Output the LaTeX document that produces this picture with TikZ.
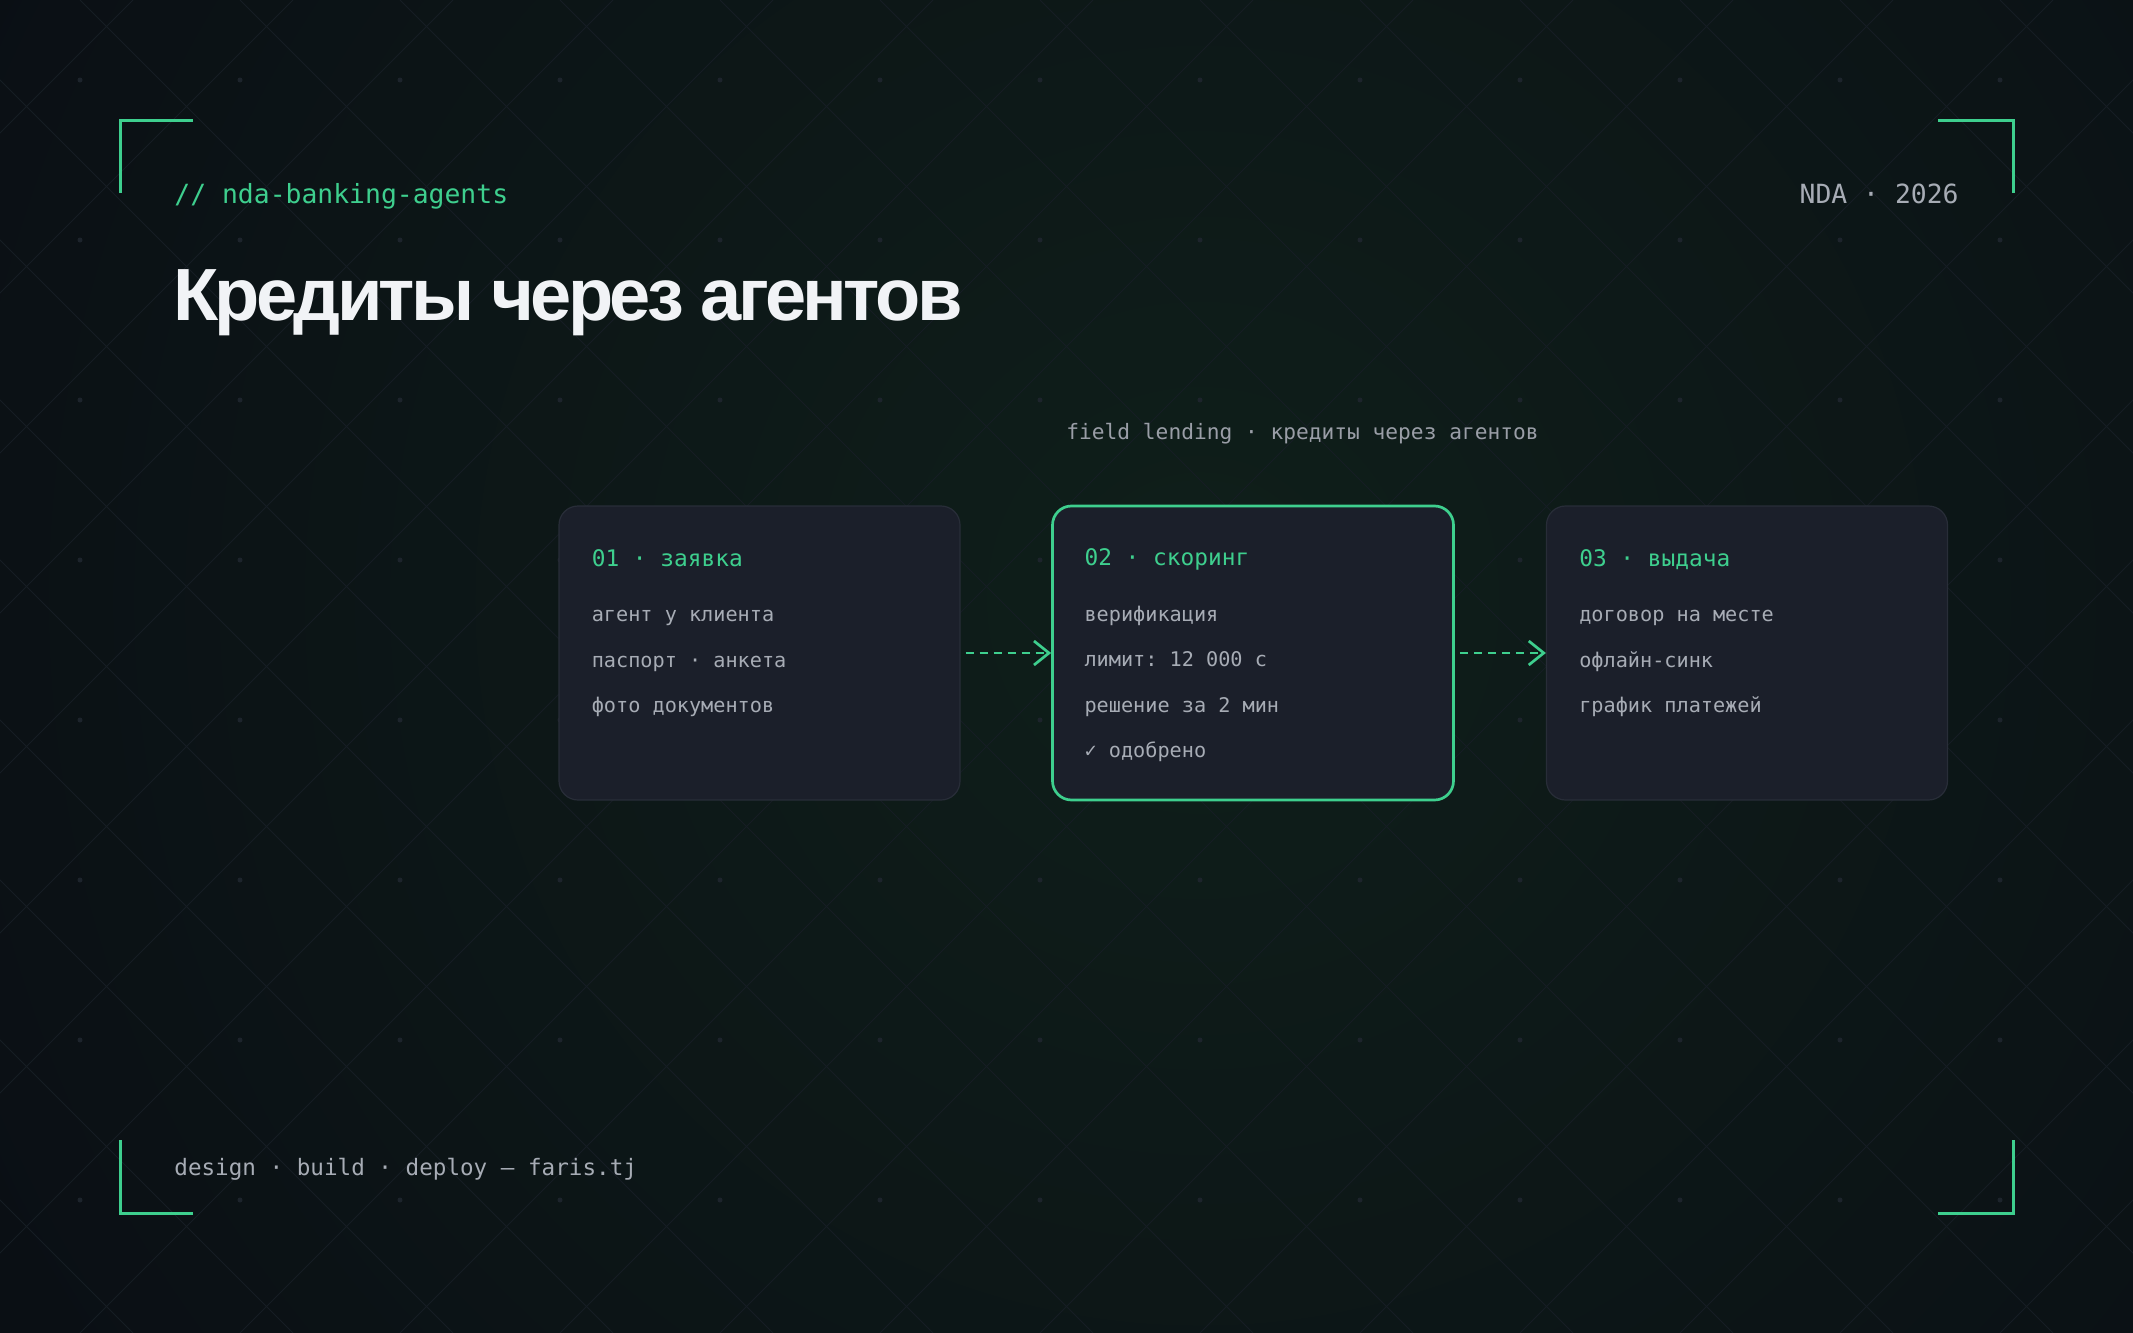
\documentclass[tikz,border=0pt]{standalone}
\usepackage{fontspec}
\setmonofont{DejaVu Sans Mono}
\newfontfamily\titlefont[LetterSpace=-5]{Liberation Sans}
\usetikzlibrary{arrows.meta}
\usetikzlibrary{calc}
\usepackage{xcolor}
\definecolor{bg}{HTML}{0A0E14}
\definecolor{glow}{HTML}{0F1F1A}
\definecolor{gridc}{HTML}{161D24}
\definecolor{dotc}{HTML}{1D242C}
\definecolor{accent}{HTML}{3ECF8E}
\definecolor{cardfill}{HTML}{1B1F2A}
\definecolor{cardline}{HTML}{282D38}
\definecolor{mutetext}{HTML}{A7ACB5}
\definecolor{titletext}{HTML}{F1F3F6}
\tikzset{
  card/.style={draw=cardline, line width=0.6pt, fill=cardfill, rounded corners=9.5pt,
    minimum width=200.5pt, minimum height=147pt, inner sep=0pt},
  activecard/.style={card, draw=accent, line width=1.35pt},
  mono/.style={font=\ttfamily\fontsize{10.1}{12}\selectfont, text=mutetext, inner sep=0pt, anchor=base west},
  stephead/.style={mono, font=\ttfamily\fontsize{11.4}{13}\selectfont, text=accent},
  flow/.style={accent, line width=1.35pt, dash pattern=on 4pt off 3pt, shorten <=2.5pt,
    -{Straight Barb[length=7.5pt, width=12pt, line width=1.35pt]}},
  bracket/.style={accent, line width=1.5pt}
}
\begin{document}
\begin{tikzpicture}[x=0.5pt, y=-0.5pt]
    \useasboundingbox (0,0) rectangle (2133,1333);
    \fill[bg] (0,0) rectangle (2133,1333);
    \begin{scope}
    \clip (0,0) rectangle (2133,1333);
    \shade[inner color=glow, outer color=bg] (1200,600) circle (1450);
    \foreach \c in {-1360,-1200,...,2160} {
        \draw[gridc, line width=0.5pt] (\c,0) -- ++(1333,1333);
        \draw[gridc, line width=0.5pt] (\c+1333,0) -- ++(-1333,1333);
    }
    \foreach \i in {80,240,...,2000}
        \foreach \j in {80,240,...,1200}
            \fill[dotc] (\i,\j) circle (2.5);
    \end{scope}

    % corners
    \draw[bracket] (120,193) -- (120,120) -- (193,120);
    \draw[bracket] (1938,120) -- (2013,120) -- (2013,193);
    \draw[bracket] (120,1140) -- (120,1213) -- (193,1213);
    \draw[bracket] (1938,1213) -- (2013,1213) -- (2013,1140);

    % header
    \node[mono, font=\ttfamily\fontsize{13.2}{16}\selectfont, text=accent] (repo) at (174,203) {// nda-banking-agents};
    \node[mono, font=\ttfamily\fontsize{13.2}{16}\selectfont, anchor=base east] (year) at (1959,203) {NDA · 2026};
    \node[inner sep=0pt, anchor=base west, text=titletext, font=\titlefont\bfseries\fontsize{37}{42}\selectfont] (title) at (173,320) {Кредиты через агентов};
    \node[mono, font=\ttfamily\fontsize{10.6}{12}\selectfont, text=mutetext!92!black] (sub) at (1066,439) {field lending · кредиты через агентов};

    % steps
    \node[card] (b1) at (759.5,653) {};
    \node[activecard] (b2) at (1253,653) {};
    \node[card] (b3) at (1747,653) {};

    \node[stephead] (h1) at ($(b1.north west)+(33,61)$) {01 · заявка};
    \node[mono] (l11) at ($(b1.north west)+(33,116.5)$) {агент у клиента};
    \node[mono] (l12) at ($(b1.north west)+(33,162)$) {паспорт · анкета};
    \node[mono] (l13) at ($(b1.north west)+(33,207.5)$) {фото документов};

    \node[stephead] (h2) at ($(b2.north west)+(33,61)$) {02 · скоринг};
    \node[mono] (l21) at ($(b2.north west)+(33,116.5)$) {верификация};
    \node[mono] (l22) at ($(b2.north west)+(33,162)$) {лимит: 12 000 с};
    \node[mono] (l23) at ($(b2.north west)+(33,207.5)$) {решение за 2 мин};
    \node[mono] (l24) at ($(b2.north west)+(33,253)$) {✓ одобрено};

    \node[stephead] (h3) at ($(b3.north west)+(33,61)$) {03 · выдача};
    \node[mono] (l31) at ($(b3.north west)+(33,116.5)$) {договор на месте};
    \node[mono] (l32) at ($(b3.north west)+(33,162)$) {офлайн-синк};
    \node[mono] (l33) at ($(b3.north west)+(33,207.5)$) {график платежей};

    \draw[flow] (b1.east) -- (b2.west);
    \draw[flow] (b2.east) -- (b3.west);

    % footer
    \node[mono, font=\ttfamily\fontsize{11.3}{13}\selectfont] (foot) at (174,1175) {design · build · deploy — faris.tj};
\end{tikzpicture}
\end{document}
